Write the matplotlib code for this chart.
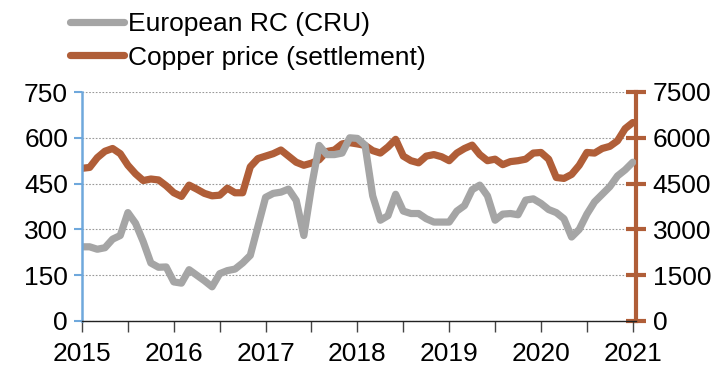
import numpy as np
import matplotlib
matplotlib.use("Agg")
import matplotlib.pyplot as plt

plt.rcParams['font.family'] = ['Liberation Sans', 'DejaVu Sans']

# Monthly observations, Jan 2015 .. Jan 2021
start_year = 2015
european_rc = [
    243, 243, 235, 240, 268, 280, 355, 320, 260, 190, 176, 177,   # 2015
    128, 124, 168, 150, 132, 112, 155, 165, 170, 190, 215, 310,   # 2016
    405, 418, 422, 432, 395, 280, 440, 575, 545, 545, 550, 600,   # 2017
    598, 576, 410, 330, 345, 415, 360, 352, 352, 335, 324, 324,   # 2018
    324, 360, 378, 430, 445, 410, 330, 350, 352, 348, 396, 400,   # 2019
    385, 365, 355, 335, 275, 300, 350, 390, 415, 440, 475, 495,   # 2020
    520,                                                          # 2021
]
copper_price = [
    5000, 5030, 5350, 5560, 5650, 5480, 5100, 4820, 4600, 4650, 4620, 4430,
    4200, 4080, 4450, 4320, 4180, 4100, 4120, 4350, 4200, 4200, 5050, 5320,
    5400, 5480, 5600, 5400, 5200, 5100, 5170, 5280, 5550, 5600, 5800, 5840,
    5800, 5750, 5580, 5500, 5700, 5950, 5400, 5250, 5180, 5400, 5450, 5380,
    5250, 5500, 5650, 5760, 5450, 5250, 5300, 5120, 5220, 5250, 5300, 5500,
    5520, 5300, 4700, 4670, 4800, 5100, 5520, 5500, 5650, 5720, 5900, 6300,
    6500,
]
series_labels = ["European RC (CRU)", "Copper price (settlement)"]
year_labels = [str(y) for y in range(2015, 2022)]
left_ticks = [0, 150, 300, 450, 600, 750]
right_ticks = [0, 1500, 3000, 4500, 6000, 7500]

months = start_year + np.arange(len(european_rc)) / 12.0

grey = "#A5A5A5"
rust = "#B05E38"
blue = "#6FA8DC"

fig = plt.figure(figsize=(7.23, 3.66), dpi=100)
ax = fig.add_axes([82 / 723, 1 - 321 / 366, (636 - 82) / 723, (321 - 92) / 366])
ax2 = ax.twinx()

# copper axis sits underneath, carrying the grid
ax.set_zorder(ax2.get_zorder() + 1)
ax.patch.set_visible(False)

l2, = ax2.plot(months, copper_price, color=rust, lw=5.2, solid_capstyle='round',
               solid_joinstyle='round')
l1, = ax.plot(months, european_rc, color=grey, lw=5.2, solid_capstyle='round',
              solid_joinstyle='round')

ax.set_ylim(0, 750)
ax2.set_ylim(0, 7500)
ax.set_xlim(2015, 2021.035)

ax.set_yticks(left_ticks)
ax2.set_yticks(right_ticks)
ax.set_xticks(range(2015, 2022))
ax.set_xticklabels(year_labels)
ax.set_xticks(np.arange(2015, 2021.01, 0.5), minor=True)

ax2.grid(axis='y', color='#999999', linestyle=(0, (1.5, 1.5)), linewidth=0.8)
ax2.set_axisbelow(True)

fs = 19
for a in (ax, ax2):
    a.spines['top'].set_visible(False)
ax.spines['right'].set_visible(False)
ax2.spines['left'].set_visible(False)
ax2.spines['bottom'].set_visible(False)

ax.spines['left'].set_color(blue)
ax.spines['left'].set_linewidth(1.8)
ax.spines['bottom'].set_color('#222222')
ax.spines['bottom'].set_linewidth(1.0)
ax2.spines['right'].set_color(rust)
ax2.spines['right'].set_linewidth(3.0)

ax.tick_params(axis='y', colors=blue, labelcolor='black', direction='out',
               length=6, width=1.5, labelsize=fs, pad=4)
ax2.tick_params(axis='y', colors=rust, labelcolor='black', direction='inout',
                length=14, width=3, labelsize=fs, pad=5)
ax.tick_params(axis='x', which='major', direction='out', length=8, width=1,
               color='#444444', labelsize=fs, pad=7)
ax.tick_params(axis='x', which='minor', direction='out', length=8, width=1,
               color='#444444')

fig.legend([l1, l2], series_labels, loc='upper left',
           bbox_to_anchor=(59 / 723, 0.995), frameon=False, fontsize=fs,
           handlelength=2.05, handletextpad=0.15, labelspacing=0.35,
           borderaxespad=0)

fig.savefig("out.png", dpi=100)
